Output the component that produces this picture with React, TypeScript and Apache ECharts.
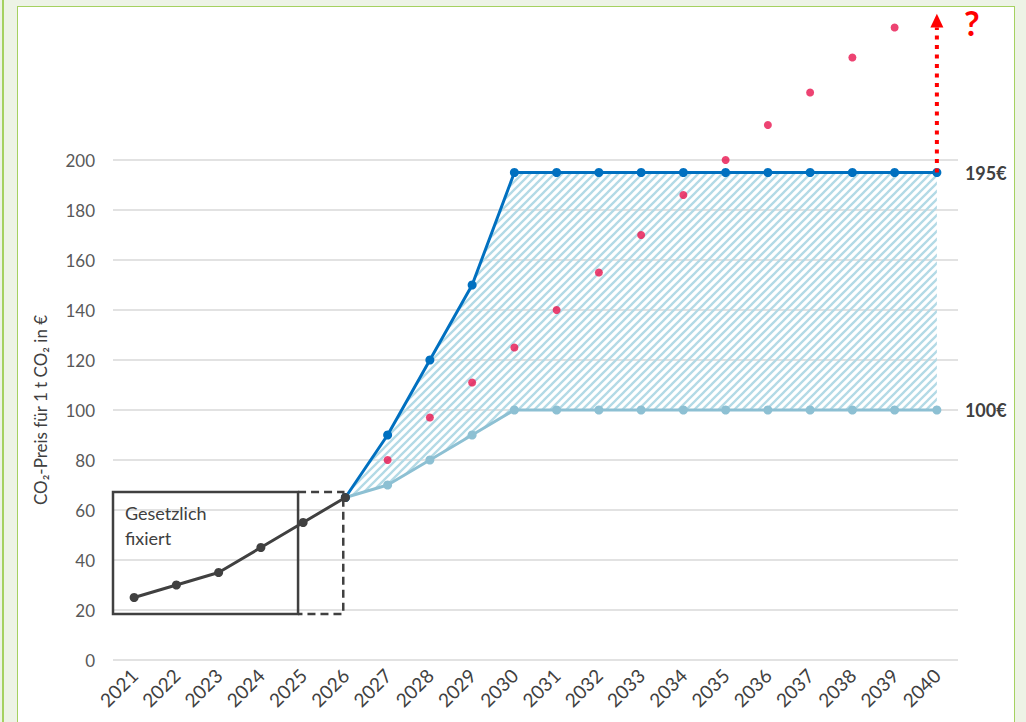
import React, { useEffect, useRef } from "react";
import * as echarts from "echarts";

const years = ["2021","2022","2023","2024","2025","2026","2027","2028","2029","2030","2031","2032","2033","2034","2035","2036","2037","2038","2039","2040"];
const fixedPrices: (number | string)[] = [25, 30, 35, 45, 55, 65, "-", "-", "-", "-", "-", "-", "-", "-", "-", "-", "-", "-", "-", "-"];
const upperPath: (number | string)[] = ["-", "-", "-", "-", "-", 65, 90, 120, 150, 195, 195, 195, 195, 195, 195, 195, 195, 195, 195, 195];
const lowerPath: (number | string)[] = ["-", "-", "-", "-", "-", 65, 70, 80, 90, 100, 100, 100, 100, 100, 100, 100, 100, 100, 100, 100];
const projection: (number | string)[] = ["-", "-", "-", "-", "-", "-", 80, 97, 111, 125, 140, 155, 170, 186, 200, 214, 227, 241, 253, "-"];
const upperLabel = "195€";
const lowerLabel = "100€";
const boxText = "Gesetzlich\nfixiert";
// annotation extents in data units (x as category index, y as price)
const boxSolidX = [-0.5, 3.88];
const boxDashedX = [3.88, 4.95];
const boxY = [18.4, 67.2];
const arrowIndex = 19;
const arrowY = [195, 253, 258.5];

const FONT = "Lato, 'Open Sans', sans-serif";
const DARK = "#404040";

function makeHatch() {
  const c = document.createElement("canvas");
  const s = 8;
  c.width = s;
  c.height = s;
  const ctx = c.getContext("2d")!;
  ctx.strokeStyle = "#b3dae6";
  ctx.lineWidth = 2.3;
  ctx.beginPath();
  ctx.moveTo(0, s);
  ctx.lineTo(s, 0);
  ctx.moveTo(-s / 2, s / 2);
  ctx.lineTo(s / 2, -s / 2);
  ctx.moveTo(s / 2, s * 1.5);
  ctx.lineTo(s * 1.5, s / 2);
  ctx.stroke();
  return c;
}

export default function App() {
  const ref = useRef<HTMLDivElement>(null);
  useEffect(() => {
    if (!ref.current) return;
    const chart = echarts.init(ref.current, undefined, { renderer: "svg" });
    const hatchSpan = upperPath.map((u, i) =>
      typeof u === "number" && typeof lowerPath[i] === "number" ? (u as number) - (lowerPath[i] as number) : "-"
    );
    const option: any = {
      animation: false,
      backgroundColor: "transparent",
      grid: { left: 113, right: 68, top: 160, bottom: 62 },
      xAxis: [
        {
          type: "category",
          data: years,
          boundaryGap: true,
          axisLine: { show: false },
          axisTick: { show: false },
          axisLabel: { rotate: 45, fontSize: 19, color: DARK, fontFamily: FONT, margin: 12, interval: 0 },
        },
        { type: "value", min: -0.5, max: 19.5, show: false },
      ],
      yAxis: {
        type: "value",
        min: 0,
        max: 200,
        interval: 20,
        name: "CO₂-Preis für 1 t CO₂ in €",
        nameLocation: "middle",
        nameGap: 64,
        nameTextStyle: { fontSize: 17, color: DARK, fontFamily: FONT },
        axisLine: { show: false },
        axisTick: { show: false },
        axisLabel: { fontSize: 17, color: "#595959", fontFamily: FONT, margin: 18 },
        splitLine: { lineStyle: { color: "#d9d9d9", width: 1.5 } },
      },
      series: [
        {
          type: "line",
          stack: "band",
          data: lowerPath,
          symbol: "none",
          z: 1,
          lineStyle: { opacity: 0, width: 0 },
          silent: true,
        },
        {
          type: "line",
          stack: "band",
          data: hatchSpan,
          symbol: "none",
          z: 1,
          lineStyle: { opacity: 0, width: 0 },
          areaStyle: { color: { image: makeHatch(), repeat: "repeat" }, opacity: 1 },
          silent: true,
        },
        {
          type: "line",
          data: lowerPath,
          symbol: "circle",
          symbolSize: 9,
          z: 3,
          color: "#8dc0d3",
          lineStyle: { color: "#8dc0d3", width: 3 },
          itemStyle: { color: "#8dc0d3" },
          endLabel: {
            show: true,
            formatter: lowerLabel,
            distance: 28,
            fontSize: 18,
            fontWeight: "bold",
            color: DARK,
            fontFamily: FONT,
          },
        },
        {
          type: "line",
          data: upperPath,
          symbol: "circle",
          symbolSize: 9,
          z: 3,
          color: "#0070c0",
          lineStyle: { color: "#0070c0", width: 3 },
          itemStyle: { color: "#0070c0" },
          endLabel: {
            show: true,
            formatter: upperLabel,
            distance: 28,
            fontSize: 18,
            fontWeight: "bold",
            color: DARK,
            fontFamily: FONT,
          },
        },
        {
          type: "line",
          data: fixedPrices,
          symbol: "circle",
          symbolSize: 9,
          z: 4,
          color: DARK,
          lineStyle: { color: DARK, width: 3 },
          itemStyle: { color: DARK },
        },
        {
          type: "scatter",
          data: projection,
          symbol: "circle",
          symbolSize: 8,
          z: 6,
          clip: false,
          itemStyle: { color: "#e8144f" },
        },
        {
          type: "custom",
          xAxisIndex: 1,
          yAxisIndex: 0,
          clip: false,
          silent: true,
          z: 7,
          data: [[0, 0]],
          renderItem: (params: any, api: any) => {
            const X = (v: number) => api.coord([v, 0])[0];
            const Y = (v: number) => api.coord([0, v])[1];
            const x0 = X(boxSolidX[0]);
            const x1 = X(boxSolidX[1]);
            const x2 = X(boxDashedX[1]);
            const yTop = Y(boxY[1]);
            const yBot = Y(boxY[0]);
            const ax = X(arrowIndex);
            const aBase = Y(arrowY[0]);
            const aHead = Y(arrowY[1]);
            const aTip = Y(arrowY[2]);
            return {
              type: "group",
              children: [
                {
                  type: "rect",
                  shape: { x: x0, y: yTop, width: x1 - x0, height: yBot - yTop },
                  style: { fill: "none", stroke: DARK, lineWidth: 2.5 },
                },
                {
                  type: "polyline",
                  shape: { points: [[x1, yTop], [x2, yTop], [x2, yBot], [x1, yBot]] },
                  style: { fill: "none", stroke: DARK, lineWidth: 2.5, lineDash: [8, 5] },
                },
                {
                  type: "text",
                  x: x0 + 12,
                  y: yTop + 8,
                  style: {
                    text: boxText,
                    fontSize: 18,
                    lineHeight: 25,
                    fill: DARK,
                    fontFamily: FONT,
                    verticalAlign: "top",
                  },
                },
                {
                  type: "line",
                  shape: { x1: ax, y1: aBase, x2: ax, y2: aHead },
                  style: { stroke: "#ff0000", lineWidth: 4, lineDash: [4, 5.5] },
                },
                {
                  type: "polygon",
                  shape: { points: [[ax - 6.5, aHead], [ax + 6.5, aHead], [ax, aTip]] },
                  style: { fill: "#ff0000" },
                },
                {
                  type: "text",
                  x: ax + 35,
                  y: aTip + 9,
                  style: {
                    text: "?",
                    fontSize: 34,
                    fontWeight: "bold",
                    fill: "#ff0000",
                    fontFamily: FONT,
                    align: "center",
                    verticalAlign: "middle",
                  },
                },
              ],
            };
          },
        },
      ],
    };
    chart.setOption(option);
    return () => chart.dispose();
  }, []);

  const green = "#a5d160";
  return (
    <div style={{ position: "fixed", left: 0, top: 0, width: 1026, height: 722, background: "#edf3e6", overflow: "hidden" }}>
      <div style={{ position: "absolute", left: 2, top: 0, width: 1.5, height: 722, background: green }} />
      <div
        style={{
          position: "absolute",
          left: 17,
          top: 6,
          width: 996,
          height: 730,
          background: "#ffffff",
          borderLeft: `1.5px solid ${green}`,
          borderTop: `1.5px solid ${green}`,
          borderRight: `1.5px solid ${green}`,
        }}
      />
      <div ref={ref} style={{ position: "absolute", left: 0, top: 0, width: 1026, height: 722 }} />
    </div>
  );
}
